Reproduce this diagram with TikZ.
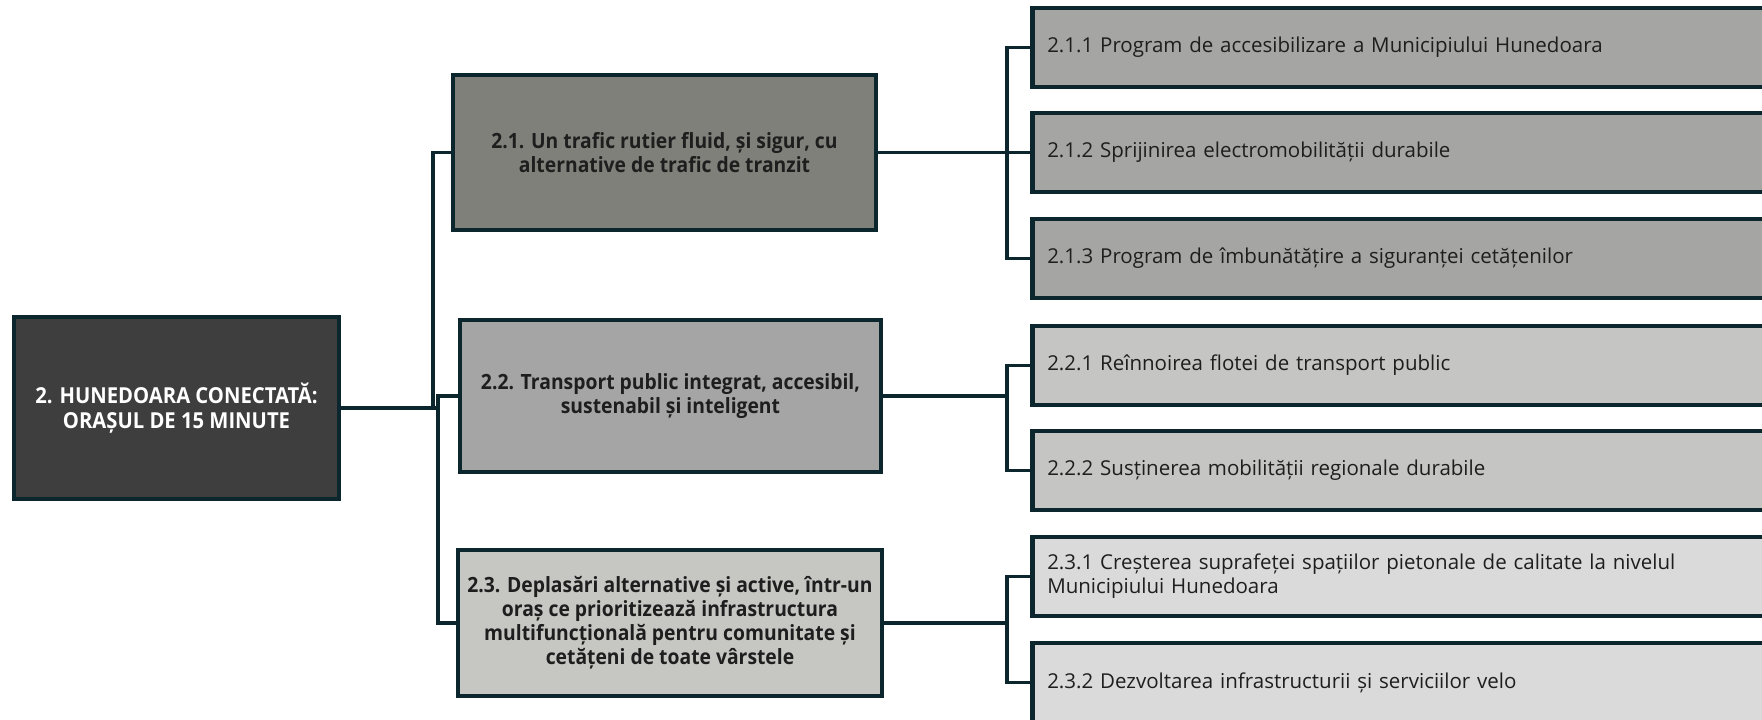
\documentclass[tikz,border=0pt]{standalone}
\usepackage{fontspec}
\setmainfont{Open Sans}
\newfontfamily\midfont[FakeStretch=0.92]{Open Sans}
\newfontfamily\leaffont{Open Sans}
\usetikzlibrary{backgrounds}
\definecolor{bordc}{RGB}{12,38,45}
\definecolor{rootc}{RGB}{62,62,62}
\definecolor{midA}{RGB}{128,128,122}
\definecolor{midB}{RGB}{165,165,165}
\definecolor{midC}{RGB}{198,198,195}
\definecolor{leafA}{RGB}{165,165,163}
\definecolor{leafB}{RGB}{197,197,195}
\definecolor{leafC}{RGB}{218,218,218}
\definecolor{txtc}{RGB}{30,30,30}
\tikzset{
  box/.style={draw=bordc, line width=4.5pt, inner sep=0pt, align=center},
  midbox/.style={box, text=txtc, font=\midfont\bfseries\fontsize{21}{24}\selectfont},
  leafbox/.style={draw=bordc, line width=4.5pt, anchor=west, minimum width=760pt,
    minimum height=79pt, text width=730pt, inner xsep=15pt, inner ysep=0pt, align=left,
    text=txtc, font=\leaffont\fontsize{20.5}{24}\selectfont},
  conn/.style={draw=bordc, line width=3.5pt}
}
\begin{document}
\begin{tikzpicture}[x=1pt,y=-1pt]
\useasboundingbox (0,0) rectangle (1762,720);
\clip (0,0) rectangle (1762,720);
\coordinate (tA) at (433,0);
\coordinate (tB) at (438,0);
\coordinate (bx) at (1007,0);
% root
\node[box, fill=rootc, text=white, minimum width=325pt, minimum height=182pt,
  font=\midfont\bfseries\fontsize{22}{25}\selectfont] (root) at (176.5,408)
  {2. HUNEDOARA CONECTATĂ:\\ORAȘUL DE 15 MINUTE};
% level 2
\node[midbox, fill=midA, minimum width=423pt, minimum height=155pt] (l21) at (664.5,152.5)
  {2.1. Un trafic rutier fluid, și sigur, cu\\alternative de trafic de tranzit};
\node[midbox, fill=midB, minimum width=421pt, minimum height=152pt] (l22) at (670.5,396)
  {2.2. Transport public integrat, accesibil,\\sustenabil și inteligent};
\node[midbox, fill=midC, minimum width=424pt, minimum height=146pt] (l23) at (670,623)
  {2.3. Deplasări alternative și active, într-un\\oraș ce prioritizează infrastructura\\multifuncțională pentru comunitate și\\cetățeni de toate vârstele};
% leaves
\node[leafbox, fill=leafA] (l211) at (1030,47.5) {2.1.1 Program de accesibilizare a Municipiului Hunedoara};
\node[leafbox, fill=leafA] (l212) at (1030,152.5) {2.1.2 Sprijinirea electromobilității durabile};
\node[leafbox, fill=leafA] (l213) at (1030,258.5) {2.1.3 Program de îmbunătățire a siguranței cetățenilor};
\node[leafbox, fill=leafB] (l221) at (1030,365.5) {2.2.1 Reînnoirea flotei de transport public};
\node[leafbox, fill=leafB] (l222) at (1030,470.5) {2.2.2 Susținerea mobilității regionale durabile};
\node[leafbox, fill=leafC] (l231) at (1030,576.5) {2.3.1 Creșterea suprafeței spațiilor pietonale de calitate la nivelul\\Municipiului Hunedoara};
\node[leafbox, fill=leafC] (l232) at (1030,682.5) {2.3.2 Dezvoltarea infrastructurii și serviciilor velo};
% connectors
\begin{scope}[on background layer]
\draw[conn] (root.east) -- (root.east -| tA) |- (l21.west);
\draw[conn] (root.east) -- (root.east -| tB) |- (l22.west);
\draw[conn] (root.east) -- (root.east -| tB) |- (l23.west);
\draw[conn] (l21.east) -- (l21.east -| bx) |- (l211.west);
\draw[conn] (l21.east) -- (l21.east -| bx) |- (l212.west);
\draw[conn] (l21.east) -- (l21.east -| bx) |- (l213.west);
\draw[conn] (l22.east) -- (l22.east -| bx) |- (l221.west);
\draw[conn] (l22.east) -- (l22.east -| bx) |- (l222.west);
\draw[conn] (l23.east) -- (l23.east -| bx) |- (l231.west);
\draw[conn] (l23.east) -- (l23.east -| bx) |- (l232.west);
\end{scope}
\end{tikzpicture}
\end{document}
